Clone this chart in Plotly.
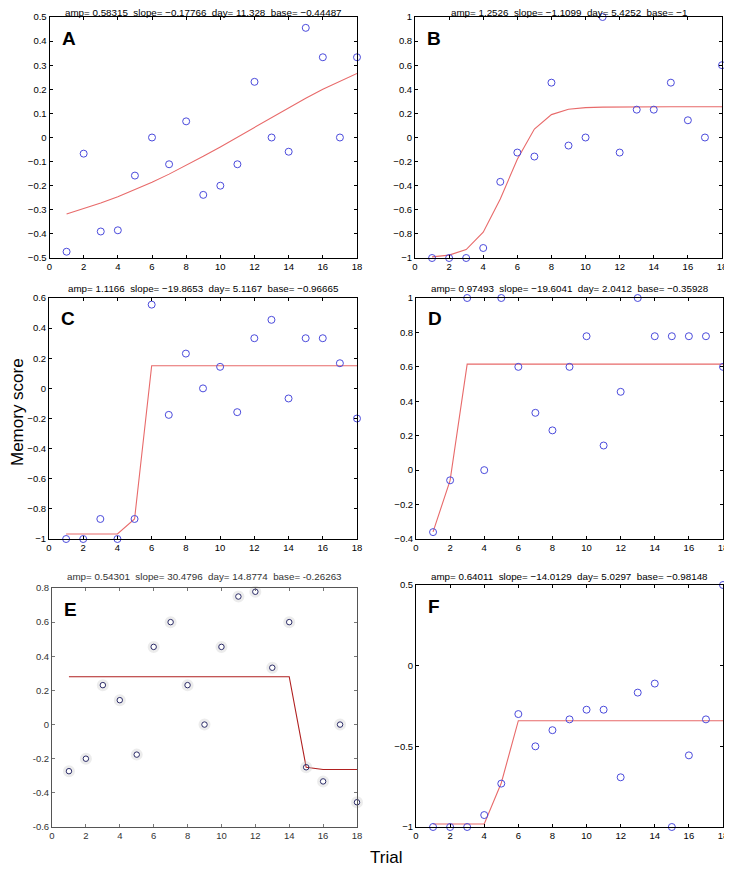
import plotly.graph_objects as go

trials = list(range(1, 19))

# observed memory scores per panel
obs_A = [-0.474, -0.067, -0.39, -0.385, -0.158, 0.0, -0.111, 0.067, -0.238, -0.2,
         -0.111, 0.231, 0.0, -0.059, 0.455, 0.333, 0.0, 0.333]
obs_B = [-1, -1, -1, -0.917, -0.368, -0.125, -0.158, 0.455, -0.067, 0.0,
         1.0, -0.125, 0.231, 0.231, 0.455, 0.143, 0.0, 0.6]
obs_C = [-1, -1, -0.867, -1, -0.867, 0.556, -0.176, 0.231, 0.0, 0.143,
         -0.158, 0.333, 0.455, -0.067, 0.333, 0.333, 0.167, -0.2]
obs_D = [-0.36, -0.059, 1.0, 0.0, 1.0, 0.6, 0.333, 0.231, 0.6, 0.778,
         0.143, 0.455, 1.0, 0.778, 0.778, 0.778, 0.778, 0.6]
obs_E = [-0.273, -0.2, 0.231, 0.143, -0.176, 0.455, 0.6, 0.231, 0.0, 0.455,
         0.75, 0.778, 0.333, 0.6, -0.25, -0.333, 0.0, -0.455]
obs_F = [-1, -1, -1, -0.926, -0.731, -0.3, -0.5, -0.4, -0.333, -0.273,
         -0.273, -0.692, -0.167, -0.111, -1, -0.556, -0.333, 0.5]

# fitted curves at each trial
fit_A = [-0.317, -0.296, -0.272, -0.246, -0.217, -0.186, -0.152, -0.116, -0.078, -0.039,
         0.002, 0.043, 0.084, 0.124, 0.163, 0.200, 0.234, 0.266]
fit_B = [-0.991, -0.976, -0.93, -0.786, -0.51, -0.18, 0.07, 0.19, 0.234, 0.248,
         0.252, 0.254, 0.255, 0.255, 0.255, 0.255, 0.255, 0.255]
fit_C = [-0.967, -0.967, -0.967, -0.967, -0.867, 0.150, 0.150, 0.150, 0.150, 0.150,
         0.150, 0.150, 0.150, 0.150, 0.150, 0.150, 0.150, 0.150]
fit_D = [-0.359, -0.059, 0.616, 0.616, 0.616, 0.616, 0.616, 0.616, 0.616, 0.616,
         0.616, 0.616, 0.616, 0.616, 0.616, 0.616, 0.616, 0.616]
fit_E = [0.280, 0.280, 0.280, 0.280, 0.280, 0.280, 0.280, 0.280, 0.280, 0.280,
         0.280, 0.280, 0.280, 0.280, -0.250, -0.263, -0.263, -0.263]
fit_F = [-0.981, -0.981, -0.981, -0.981, -0.727, -0.341, -0.341, -0.341, -0.341, -0.341,
         -0.341, -0.341, -0.341, -0.341, -0.341, -0.341, -0.341, -0.341]

titles = [
    "amp= 0.58315  slope= \u22120.17766  day= 11.328  base= \u22120.44487",
    "amp= 1.2526  slope= \u22121.1099  day= 5.4252  base= \u22121",
    "amp= 1.1166  slope= \u221219.8653  day= 5.1167  base= \u22120.96665",
    "amp= 0.97493  slope= \u221219.6041  day= 2.0412  base= \u22120.35928",
    "amp= 0.54301  slope= 30.4796  day= 14.8774  base= -0.26263",
    "amp= 0.64011  slope= \u221214.0129  day= 5.0297  base= \u22120.98148",
]
letters = ["A", "B", "C", "D", "E", "F"]
x_ticks = [0, 2, 4, 6, 8, 10, 12, 14, 16, 18]
y_ticks_A = [-0.5, -0.4, -0.3, -0.2, -0.1, 0, 0.1, 0.2, 0.3, 0.4, 0.5]
y_ticks_B = [-1, -0.8, -0.6, -0.4, -0.2, 0, 0.2, 0.4, 0.6, 0.8, 1]
y_ticks_C = [-1, -0.8, -0.6, -0.4, -0.2, 0, 0.2, 0.4, 0.6]
y_ticks_D = [-0.4, -0.2, 0, 0.2, 0.4, 0.6, 0.8, 1]
y_ticks_E = [-0.6, -0.4, -0.2, 0, 0.2, 0.4, 0.6, 0.8]
y_ticks_E_text = ["-0.6", "-0.4", "-0.2", "0", "0.2", "0.4", "0.6", "0.8"]
y_ticks_F = [-1, -0.5, 0, 0.5]

# the page body has an 8px margin, so the figure starts 8px in from the window
OFF = 8
W, H = 732 - OFF, 869 - OFF


def px(x):
    return (x - OFF) / W


def py(y):
    return 1 - (y - OFF) / H


# plot-area boxes in window pixels: (x0, x1, ytop, ybottom)
boxes = [(49.5, 357, 17, 258), (415, 722, 17, 258),
         (49, 357, 298, 539), (416, 723, 298, 539),
         (52, 357, 588, 827), (416, 723, 585, 827)]
title_y = [13, 13, 288, 288, 576, 576]
obs = [obs_A, obs_B, obs_C, obs_D, obs_E, obs_F]
fits = [fit_A, fit_B, fit_C, fit_D, fit_E, fit_F]
yticks = [y_ticks_A, y_ticks_B, y_ticks_C, y_ticks_D, y_ticks_E, y_ticks_F]
ytext = [None, None, None, None, y_ticks_E_text, None]

FONT = "Liberation Sans, Arial, sans-serif"
fig = go.Figure()
annotations = []
for i in range(6):
    n = "" if i == 0 else str(i + 1)
    xa, ya = "x" + n, "y" + n
    isE = (i == 4)
    fig.add_trace(go.Scatter(
        x=trials, y=fits[i], mode="lines", xaxis=xa, yaxis=ya, cliponaxis=False,
        line=dict(color="#b02020" if isE else "#e86a6a", width=1.1),
        showlegend=False, hoverinfo="skip"))
    if isE:
        fig.add_trace(go.Scatter(
            x=trials, y=obs[i], mode="markers", xaxis=xa, yaxis=ya, cliponaxis=False,
            marker=dict(symbol="circle-open", size=9, color="rgba(200,200,200,0.35)",
                        line=dict(width=3, color="rgba(200,200,200,0.35)")),
            showlegend=False, hoverinfo="skip"))
        fig.add_trace(go.Scatter(
            x=trials, y=obs[i], mode="markers", xaxis=xa, yaxis=ya, cliponaxis=False,
            marker=dict(symbol="circle-open", size=5.5, color="#2a2a66",
                        line=dict(width=1, color="#2a2a66")),
            showlegend=False))
    else:
        fig.add_trace(go.Scatter(
            x=trials, y=obs[i], mode="markers", xaxis=xa, yaxis=ya, cliponaxis=False,
            marker=dict(symbol="circle-open", size=7, color="#4b4bdc",
                        line=dict(width=1, color="#4b4bdc")),
            showlegend=False))
    x0, x1, yt, yb = boxes[i]
    axcol = "#555555" if isE else "black"
    tkcol = "#777777" if isE else "black"
    tfont = dict(size=9.5, family=FONT, color="#333333" if isE else "black")
    xaxis = dict(domain=[px(x0), px(x1)], range=[0, 18], tickvals=x_ticks,
                 ticks="inside", ticklen=3, tickcolor=tkcol, mirror="ticks",
                 showline=True, linecolor=axcol, linewidth=1, showgrid=False,
                 zeroline=False, anchor=ya, automargin=False,
                 ticklabeloverflow="allow", tickfont=tfont)
    ylo, yhi = yticks[i][0], yticks[i][-1]
    yaxis = dict(domain=[py(yb), py(yt)], range=[ylo, yhi], tickvals=yticks[i],
                 ticks="inside", ticklen=3, tickcolor=tkcol, mirror="ticks",
                 showline=True, linecolor=axcol, linewidth=1, showgrid=False,
                 zeroline=False, anchor=xa, automargin=False,
                 ticklabeloverflow="allow", tickfont=tfont)
    if ytext[i] is not None:
        yaxis["ticktext"] = ytext[i]
    fig.update_layout(**{"xaxis" + n: xaxis, "yaxis" + n: yaxis})
    annotations.append(dict(text=titles[i].replace("  ", "\u00a0\u00a0"),
                            x=px((x0 + x1) / 2), y=py(title_y[i]),
                            xref="paper", yref="paper", showarrow=False,
                            xanchor="center", yanchor="middle",
                            font=dict(size=9.8, family=FONT,
                                      color="#333333" if isE else "black")))
    annotations.append(dict(text="<b>" + letters[i] + "</b>",
                            x=px(x0 + 10), y=py(yt + 21),
                            xref="paper", yref="paper", showarrow=False,
                            xanchor="left", yanchor="middle",
                            font=dict(size=19, family=FONT, color="black")))

annotations.append(dict(text="Memory score", x=px(18), y=py(412), xref="paper",
                        yref="paper", showarrow=False, textangle=-90,
                        xanchor="center", yanchor="middle",
                        font=dict(size=17, family=FONT, color="black")))
annotations.append(dict(text="Trial", x=px(386), y=py(857), xref="paper",
                        yref="paper", showarrow=False, xanchor="center",
                        yanchor="middle",
                        font=dict(size=17, family=FONT, color="black")))

fig.update_layout(width=W, height=H, margin=dict(l=0, r=0, t=0, b=0),
                  paper_bgcolor="white", plot_bgcolor="white",
                  annotations=annotations, showlegend=False)
fig.write_html("out.html")
